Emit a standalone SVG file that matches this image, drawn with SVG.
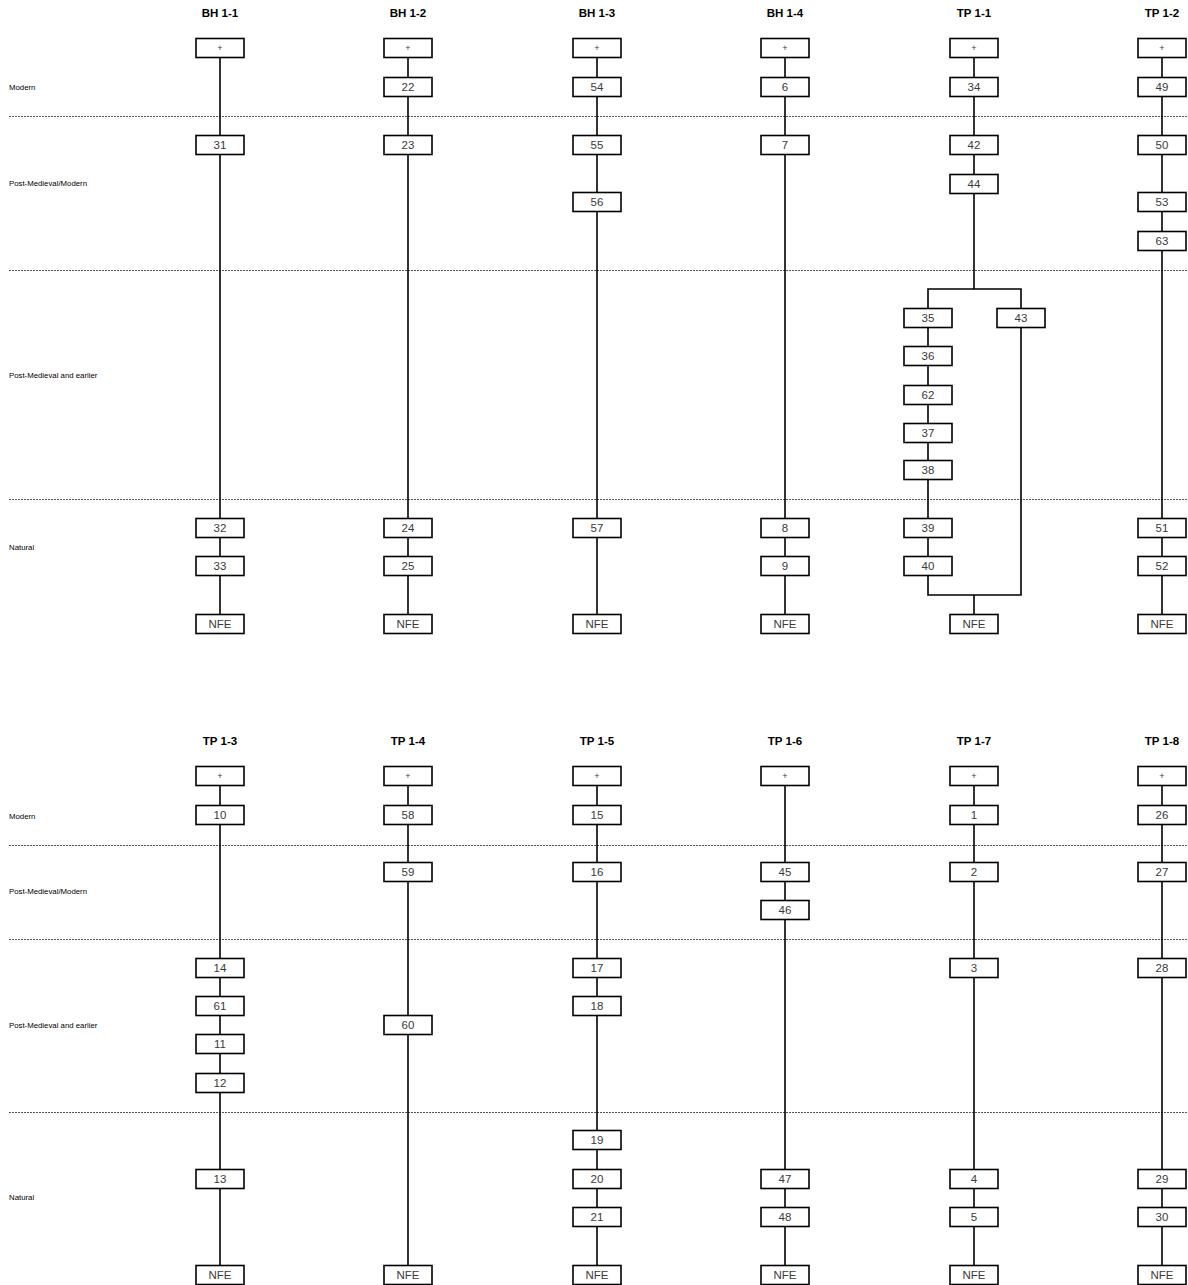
<svg xmlns="http://www.w3.org/2000/svg" width="1188" height="1285" viewBox="0 0 1188 1285">
<style>
.bg{fill:#ffffff}
.box rect{fill:#ffffff;stroke:#000000;stroke-width:1.6}
.box text{font-family:"Liberation Sans",Arial,sans-serif;font-size:11.5px;fill:#3a3a3a;text-anchor:middle;dominant-baseline:central}
.box text.plus{font-size:9px}
.hdr{font-family:"Liberation Sans",Arial,sans-serif;font-size:11.5px;font-weight:bold;fill:#000000;text-anchor:middle}
.lbl{font-family:"Liberation Sans",Arial,sans-serif;font-size:7.8px;fill:#000000;dominant-baseline:central}
.dash{stroke:#555555;stroke-width:1;stroke-dasharray:2,1}
#connectors line,#connectors polyline{stroke:#000000;stroke-width:1.6;fill:none}
</style>
<rect class="bg" x="0" y="0" width="1188" height="1285"/>
<g id="phases">
<line class="dash" x1="9" y1="116.5" x2="1188" y2="116.5"/>
<line class="dash" x1="9" y1="270.5" x2="1188" y2="270.5"/>
<line class="dash" x1="9" y1="499.5" x2="1188" y2="499.5"/>
<line class="dash" x1="9" y1="845.5" x2="1188" y2="845.5"/>
<line class="dash" x1="9" y1="939.5" x2="1188" y2="939.5"/>
<line class="dash" x1="9" y1="1112.5" x2="1188" y2="1112.5"/>
<text class="lbl" x="9" y="87">Modern</text>
<text class="lbl" x="9" y="183">Post-Medieval/Modern</text>
<text class="lbl" x="9" y="375">Post-Medieval and earlier</text>
<text class="lbl" x="9" y="547">Natural</text>
<text class="lbl" x="9" y="816">Modern</text>
<text class="lbl" x="9" y="891">Post-Medieval/Modern</text>
<text class="lbl" x="9" y="1025">Post-Medieval and earlier</text>
<text class="lbl" x="9" y="1197">Natural</text>
</g>
<g id="headers">
<text class="hdr" x="220" y="17">BH 1-1</text>
<text class="hdr" x="408" y="17">BH 1-2</text>
<text class="hdr" x="597" y="17">BH 1-3</text>
<text class="hdr" x="785" y="17">BH 1-4</text>
<text class="hdr" x="974" y="17">TP 1-1</text>
<text class="hdr" x="1162" y="17">TP 1-2</text>
<text class="hdr" x="220" y="745">TP 1-3</text>
<text class="hdr" x="408" y="745">TP 1-4</text>
<text class="hdr" x="597" y="745">TP 1-5</text>
<text class="hdr" x="785" y="745">TP 1-6</text>
<text class="hdr" x="974" y="745">TP 1-7</text>
<text class="hdr" x="1162" y="745">TP 1-8</text>
</g>
<g id="connectors">
<line x1="220" y1="57.5" x2="220" y2="135.5"/>
<line x1="220" y1="154.5" x2="220" y2="518.5"/>
<line x1="220" y1="537.5" x2="220" y2="556.5"/>
<line x1="220" y1="575.5" x2="220" y2="614.5"/>
<line x1="408" y1="57.5" x2="408" y2="77.5"/>
<line x1="408" y1="96.5" x2="408" y2="135.5"/>
<line x1="408" y1="154.5" x2="408" y2="518.5"/>
<line x1="408" y1="537.5" x2="408" y2="556.5"/>
<line x1="408" y1="575.5" x2="408" y2="614.5"/>
<line x1="597" y1="57.5" x2="597" y2="77.5"/>
<line x1="597" y1="96.5" x2="597" y2="135.5"/>
<line x1="597" y1="154.5" x2="597" y2="192.5"/>
<line x1="597" y1="211.5" x2="597" y2="518.5"/>
<line x1="597" y1="537.5" x2="597" y2="614.5"/>
<line x1="785" y1="57.5" x2="785" y2="77.5"/>
<line x1="785" y1="96.5" x2="785" y2="135.5"/>
<line x1="785" y1="154.5" x2="785" y2="518.5"/>
<line x1="785" y1="537.5" x2="785" y2="556.5"/>
<line x1="785" y1="575.5" x2="785" y2="614.5"/>
<line x1="974" y1="57.5" x2="974" y2="77.5"/>
<line x1="974" y1="96.5" x2="974" y2="135.5"/>
<line x1="974" y1="154.5" x2="974" y2="174.5"/>
<line x1="974" y1="193.5" x2="974" y2="289"/>
<polyline points="928,308.5 928,289 1021,289 1021,308.5"/>
<line x1="928" y1="327.5" x2="928" y2="346.5"/>
<line x1="928" y1="365.5" x2="928" y2="385.5"/>
<line x1="928" y1="404.5" x2="928" y2="423.5"/>
<line x1="928" y1="442.5" x2="928" y2="460.5"/>
<line x1="928" y1="479.5" x2="928" y2="518.5"/>
<line x1="928" y1="537.5" x2="928" y2="556.5"/>
<polyline points="928,575.5 928,595 1021,595 1021,327.5"/>
<line x1="974" y1="595" x2="974" y2="614.5"/>
<line x1="1162" y1="57.5" x2="1162" y2="77.5"/>
<line x1="1162" y1="96.5" x2="1162" y2="135.5"/>
<line x1="1162" y1="154.5" x2="1162" y2="192.5"/>
<line x1="1162" y1="211.5" x2="1162" y2="231.5"/>
<line x1="1162" y1="250.5" x2="1162" y2="518.5"/>
<line x1="1162" y1="537.5" x2="1162" y2="556.5"/>
<line x1="1162" y1="575.5" x2="1162" y2="614.5"/>
<line x1="220" y1="785.5" x2="220" y2="805.5"/>
<line x1="220" y1="824.5" x2="220" y2="958.5"/>
<line x1="220" y1="977.5" x2="220" y2="996.5"/>
<line x1="220" y1="1015.5" x2="220" y2="1034.5"/>
<line x1="220" y1="1053.5" x2="220" y2="1073.5"/>
<line x1="220" y1="1092.5" x2="220" y2="1169.5"/>
<line x1="220" y1="1188.5" x2="220" y2="1265.5"/>
<line x1="408" y1="785.5" x2="408" y2="805.5"/>
<line x1="408" y1="824.5" x2="408" y2="862.5"/>
<line x1="408" y1="881.5" x2="408" y2="1015.5"/>
<line x1="408" y1="1034.5" x2="408" y2="1265.5"/>
<line x1="597" y1="785.5" x2="597" y2="805.5"/>
<line x1="597" y1="824.5" x2="597" y2="862.5"/>
<line x1="597" y1="881.5" x2="597" y2="958.5"/>
<line x1="597" y1="977.5" x2="597" y2="996.5"/>
<line x1="597" y1="1015.5" x2="597" y2="1130.5"/>
<line x1="597" y1="1149.5" x2="597" y2="1169.5"/>
<line x1="597" y1="1188.5" x2="597" y2="1207.5"/>
<line x1="597" y1="1226.5" x2="597" y2="1265.5"/>
<line x1="785" y1="785.5" x2="785" y2="862.5"/>
<line x1="785" y1="881.5" x2="785" y2="900.5"/>
<line x1="785" y1="919.5" x2="785" y2="1169.5"/>
<line x1="785" y1="1188.5" x2="785" y2="1207.5"/>
<line x1="785" y1="1226.5" x2="785" y2="1265.5"/>
<line x1="974" y1="785.5" x2="974" y2="805.5"/>
<line x1="974" y1="824.5" x2="974" y2="862.5"/>
<line x1="974" y1="881.5" x2="974" y2="958.5"/>
<line x1="974" y1="977.5" x2="974" y2="1169.5"/>
<line x1="974" y1="1188.5" x2="974" y2="1207.5"/>
<line x1="974" y1="1226.5" x2="974" y2="1265.5"/>
<line x1="1162" y1="785.5" x2="1162" y2="805.5"/>
<line x1="1162" y1="824.5" x2="1162" y2="862.5"/>
<line x1="1162" y1="881.5" x2="1162" y2="958.5"/>
<line x1="1162" y1="977.5" x2="1162" y2="1169.5"/>
<line x1="1162" y1="1188.5" x2="1162" y2="1207.5"/>
<line x1="1162" y1="1226.5" x2="1162" y2="1265.5"/>
</g>
<g id="nodes">
<g class="box" id="bh11-top"><rect x="196" y="38.5" width="48" height="19"/><text class="plus" x="220" y="48">+</text></g>
<g class="box" id="n31"><rect x="196" y="135.5" width="48" height="19"/><text x="220" y="145">31</text></g>
<g class="box" id="n32"><rect x="196" y="518.5" width="48" height="19"/><text x="220" y="528">32</text></g>
<g class="box" id="n33"><rect x="196" y="556.5" width="48" height="19"/><text x="220" y="566">33</text></g>
<g class="box" id="bh11-nfe"><rect x="196" y="614.5" width="48" height="19"/><text x="220" y="624">NFE</text></g>
<g class="box" id="bh12-top"><rect x="384" y="38.5" width="48" height="19"/><text class="plus" x="408" y="48">+</text></g>
<g class="box" id="n22"><rect x="384" y="77.5" width="48" height="19"/><text x="408" y="87">22</text></g>
<g class="box" id="n23"><rect x="384" y="135.5" width="48" height="19"/><text x="408" y="145">23</text></g>
<g class="box" id="n24"><rect x="384" y="518.5" width="48" height="19"/><text x="408" y="528">24</text></g>
<g class="box" id="n25"><rect x="384" y="556.5" width="48" height="19"/><text x="408" y="566">25</text></g>
<g class="box" id="bh12-nfe"><rect x="384" y="614.5" width="48" height="19"/><text x="408" y="624">NFE</text></g>
<g class="box" id="bh13-top"><rect x="573" y="38.5" width="48" height="19"/><text class="plus" x="597" y="48">+</text></g>
<g class="box" id="n54"><rect x="573" y="77.5" width="48" height="19"/><text x="597" y="87">54</text></g>
<g class="box" id="n55"><rect x="573" y="135.5" width="48" height="19"/><text x="597" y="145">55</text></g>
<g class="box" id="n56"><rect x="573" y="192.5" width="48" height="19"/><text x="597" y="202">56</text></g>
<g class="box" id="n57"><rect x="573" y="518.5" width="48" height="19"/><text x="597" y="528">57</text></g>
<g class="box" id="bh13-nfe"><rect x="573" y="614.5" width="48" height="19"/><text x="597" y="624">NFE</text></g>
<g class="box" id="bh14-top"><rect x="761" y="38.5" width="48" height="19"/><text class="plus" x="785" y="48">+</text></g>
<g class="box" id="n6"><rect x="761" y="77.5" width="48" height="19"/><text x="785" y="87">6</text></g>
<g class="box" id="n7"><rect x="761" y="135.5" width="48" height="19"/><text x="785" y="145">7</text></g>
<g class="box" id="n8"><rect x="761" y="518.5" width="48" height="19"/><text x="785" y="528">8</text></g>
<g class="box" id="n9"><rect x="761" y="556.5" width="48" height="19"/><text x="785" y="566">9</text></g>
<g class="box" id="bh14-nfe"><rect x="761" y="614.5" width="48" height="19"/><text x="785" y="624">NFE</text></g>
<g class="box" id="tp11-top"><rect x="950" y="38.5" width="48" height="19"/><text class="plus" x="974" y="48">+</text></g>
<g class="box" id="n34"><rect x="950" y="77.5" width="48" height="19"/><text x="974" y="87">34</text></g>
<g class="box" id="n42"><rect x="950" y="135.5" width="48" height="19"/><text x="974" y="145">42</text></g>
<g class="box" id="n44"><rect x="950" y="174.5" width="48" height="19"/><text x="974" y="184">44</text></g>
<g class="box" id="n35"><rect x="904" y="308.5" width="48" height="19"/><text x="928" y="318">35</text></g>
<g class="box" id="n43"><rect x="997" y="308.5" width="48" height="19"/><text x="1021" y="318">43</text></g>
<g class="box" id="n36"><rect x="904" y="346.5" width="48" height="19"/><text x="928" y="356">36</text></g>
<g class="box" id="n62"><rect x="904" y="385.5" width="48" height="19"/><text x="928" y="395">62</text></g>
<g class="box" id="n37"><rect x="904" y="423.5" width="48" height="19"/><text x="928" y="433">37</text></g>
<g class="box" id="n38"><rect x="904" y="460.5" width="48" height="19"/><text x="928" y="470">38</text></g>
<g class="box" id="n39"><rect x="904" y="518.5" width="48" height="19"/><text x="928" y="528">39</text></g>
<g class="box" id="n40"><rect x="904" y="556.5" width="48" height="19"/><text x="928" y="566">40</text></g>
<g class="box" id="tp11-nfe"><rect x="950" y="614.5" width="48" height="19"/><text x="974" y="624">NFE</text></g>
<g class="box" id="tp12-top"><rect x="1138" y="38.5" width="48" height="19"/><text class="plus" x="1162" y="48">+</text></g>
<g class="box" id="n49"><rect x="1138" y="77.5" width="48" height="19"/><text x="1162" y="87">49</text></g>
<g class="box" id="n50"><rect x="1138" y="135.5" width="48" height="19"/><text x="1162" y="145">50</text></g>
<g class="box" id="n53"><rect x="1138" y="192.5" width="48" height="19"/><text x="1162" y="202">53</text></g>
<g class="box" id="n63"><rect x="1138" y="231.5" width="48" height="19"/><text x="1162" y="241">63</text></g>
<g class="box" id="n51"><rect x="1138" y="518.5" width="48" height="19"/><text x="1162" y="528">51</text></g>
<g class="box" id="n52"><rect x="1138" y="556.5" width="48" height="19"/><text x="1162" y="566">52</text></g>
<g class="box" id="tp12-nfe"><rect x="1138" y="614.5" width="48" height="19"/><text x="1162" y="624">NFE</text></g>
<g class="box" id="tp13-top"><rect x="196" y="766.5" width="48" height="19"/><text class="plus" x="220" y="776">+</text></g>
<g class="box" id="n10"><rect x="196" y="805.5" width="48" height="19"/><text x="220" y="815">10</text></g>
<g class="box" id="n14"><rect x="196" y="958.5" width="48" height="19"/><text x="220" y="968">14</text></g>
<g class="box" id="n61"><rect x="196" y="996.5" width="48" height="19"/><text x="220" y="1006">61</text></g>
<g class="box" id="n11"><rect x="196" y="1034.5" width="48" height="19"/><text x="220" y="1044">11</text></g>
<g class="box" id="n12"><rect x="196" y="1073.5" width="48" height="19"/><text x="220" y="1083">12</text></g>
<g class="box" id="n13"><rect x="196" y="1169.5" width="48" height="19"/><text x="220" y="1179">13</text></g>
<g class="box" id="tp13-nfe"><rect x="196" y="1265.5" width="48" height="19"/><text x="220" y="1275">NFE</text></g>
<g class="box" id="tp14-top"><rect x="384" y="766.5" width="48" height="19"/><text class="plus" x="408" y="776">+</text></g>
<g class="box" id="n58"><rect x="384" y="805.5" width="48" height="19"/><text x="408" y="815">58</text></g>
<g class="box" id="n59"><rect x="384" y="862.5" width="48" height="19"/><text x="408" y="872">59</text></g>
<g class="box" id="n60"><rect x="384" y="1015.5" width="48" height="19"/><text x="408" y="1025">60</text></g>
<g class="box" id="tp14-nfe"><rect x="384" y="1265.5" width="48" height="19"/><text x="408" y="1275">NFE</text></g>
<g class="box" id="tp15-top"><rect x="573" y="766.5" width="48" height="19"/><text class="plus" x="597" y="776">+</text></g>
<g class="box" id="n15"><rect x="573" y="805.5" width="48" height="19"/><text x="597" y="815">15</text></g>
<g class="box" id="n16"><rect x="573" y="862.5" width="48" height="19"/><text x="597" y="872">16</text></g>
<g class="box" id="n17"><rect x="573" y="958.5" width="48" height="19"/><text x="597" y="968">17</text></g>
<g class="box" id="n18"><rect x="573" y="996.5" width="48" height="19"/><text x="597" y="1006">18</text></g>
<g class="box" id="n19"><rect x="573" y="1130.5" width="48" height="19"/><text x="597" y="1140">19</text></g>
<g class="box" id="n20"><rect x="573" y="1169.5" width="48" height="19"/><text x="597" y="1179">20</text></g>
<g class="box" id="n21"><rect x="573" y="1207.5" width="48" height="19"/><text x="597" y="1217">21</text></g>
<g class="box" id="tp15-nfe"><rect x="573" y="1265.5" width="48" height="19"/><text x="597" y="1275">NFE</text></g>
<g class="box" id="tp16-top"><rect x="761" y="766.5" width="48" height="19"/><text class="plus" x="785" y="776">+</text></g>
<g class="box" id="n45"><rect x="761" y="862.5" width="48" height="19"/><text x="785" y="872">45</text></g>
<g class="box" id="n46"><rect x="761" y="900.5" width="48" height="19"/><text x="785" y="910">46</text></g>
<g class="box" id="n47"><rect x="761" y="1169.5" width="48" height="19"/><text x="785" y="1179">47</text></g>
<g class="box" id="n48"><rect x="761" y="1207.5" width="48" height="19"/><text x="785" y="1217">48</text></g>
<g class="box" id="tp16-nfe"><rect x="761" y="1265.5" width="48" height="19"/><text x="785" y="1275">NFE</text></g>
<g class="box" id="tp17-top"><rect x="950" y="766.5" width="48" height="19"/><text class="plus" x="974" y="776">+</text></g>
<g class="box" id="n1"><rect x="950" y="805.5" width="48" height="19"/><text x="974" y="815">1</text></g>
<g class="box" id="n2"><rect x="950" y="862.5" width="48" height="19"/><text x="974" y="872">2</text></g>
<g class="box" id="n3"><rect x="950" y="958.5" width="48" height="19"/><text x="974" y="968">3</text></g>
<g class="box" id="n4"><rect x="950" y="1169.5" width="48" height="19"/><text x="974" y="1179">4</text></g>
<g class="box" id="n5"><rect x="950" y="1207.5" width="48" height="19"/><text x="974" y="1217">5</text></g>
<g class="box" id="tp17-nfe"><rect x="950" y="1265.5" width="48" height="19"/><text x="974" y="1275">NFE</text></g>
<g class="box" id="tp18-top"><rect x="1138" y="766.5" width="48" height="19"/><text class="plus" x="1162" y="776">+</text></g>
<g class="box" id="n26"><rect x="1138" y="805.5" width="48" height="19"/><text x="1162" y="815">26</text></g>
<g class="box" id="n27"><rect x="1138" y="862.5" width="48" height="19"/><text x="1162" y="872">27</text></g>
<g class="box" id="n28"><rect x="1138" y="958.5" width="48" height="19"/><text x="1162" y="968">28</text></g>
<g class="box" id="n29"><rect x="1138" y="1169.5" width="48" height="19"/><text x="1162" y="1179">29</text></g>
<g class="box" id="n30"><rect x="1138" y="1207.5" width="48" height="19"/><text x="1162" y="1217">30</text></g>
<g class="box" id="tp18-nfe"><rect x="1138" y="1265.5" width="48" height="19"/><text x="1162" y="1275">NFE</text></g>
</g>
</svg>
